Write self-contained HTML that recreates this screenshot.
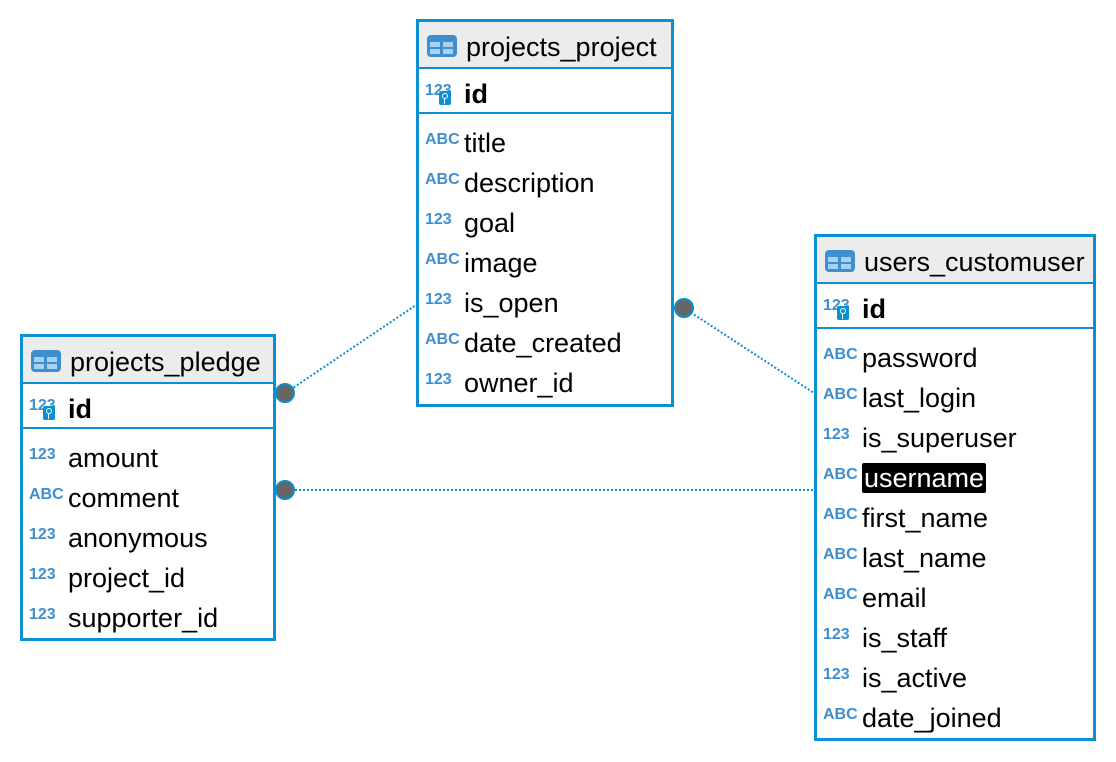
<!DOCTYPE html>
<html><head><meta charset="utf-8"><style>
*{margin:0;padding:0;box-sizing:border-box}
body{width:1116px;height:762px;background:#fff;position:relative;overflow:hidden;font-family:"Liberation Sans",sans-serif;color:#000}
.t{position:absolute;border:3px solid #0a8fd0;background:#fff}
.h{height:47px;background:#ececec;border-bottom:2px solid #0a8fd0;display:flex;align-items:center;font-size:27px;padding-left:8px;padding-top:6px}
.h .ic{width:30px;height:22px;background:#3d8fd0;border-radius:4px;margin-right:9px;position:relative;margin-top:-4px}
.h .ic:before{content:"";position:absolute;left:3px;top:7px;width:10px;height:5px;background:#a9d0ef;box-shadow:13px 0 0 #a9d0ef,0 7px 0 #a9d0ef,13px 7px 0 #a9d0ef}
.id{height:45px;border-bottom:2px solid #0a8fd0;display:flex;align-items:center;font-size:27px;font-weight:bold;padding-left:6px;padding-top:7px}
.rows{padding-top:5px}
.r{height:40px;display:flex;align-items:center;font-size:27px;padding-left:6px;padding-top:8px}
.k{width:39px;font-size:16px;font-weight:bold;color:#3d8fd0;position:relative;flex:none;margin-top:-7px}
.key{position:absolute;left:14px;top:9px;width:12px;height:14px;background:#0a8fd0;border-radius:2px}
.key:before{content:"";position:absolute;left:3px;top:2px;width:4px;height:4px;border:1px solid #fff;border-radius:50%}
.key:after{content:"";position:absolute;left:5px;top:8px;width:1px;height:5px;background:#fff}
.sel{background:#000;color:#fff;padding:0 2px;border-radius:2px;line-height:30px}
</style></head><body>
<svg width="1116" height="762" style="position:absolute;left:0;top:0">
<g stroke="#0a8fd0" stroke-width="2" stroke-dasharray="2,2" fill="none">
<line x1="287" y1="392" x2="416" y2="305"/>
<line x1="287" y1="490" x2="814" y2="490"/>
<line x1="684" y1="308" x2="814" y2="393"/>
</g>
</svg>
<div class="t" style="left:416px;top:19px;width:258px;height:388px">
<div class="h"><div class="ic"></div>projects_project</div>
<div class="id"><div class="k">123<div class="key"></div></div>id</div>
<div class="rows">
<div class="r"><div class="k">ABC</div>title</div>
<div class="r"><div class="k">ABC</div>description</div>
<div class="r"><div class="k">123</div>goal</div>
<div class="r"><div class="k">ABC</div>image</div>
<div class="r"><div class="k">123</div>is_open</div>
<div class="r"><div class="k">ABC</div>date_created</div>
<div class="r"><div class="k">123</div>owner_id</div>
</div></div>
<div class="t" style="left:20px;top:334px;width:256px;height:307px">
<div class="h"><div class="ic"></div>projects_pledge</div>
<div class="id"><div class="k">123<div class="key"></div></div>id</div>
<div class="rows">
<div class="r"><div class="k">123</div>amount</div>
<div class="r"><div class="k">ABC</div>comment</div>
<div class="r"><div class="k">123</div>anonymous</div>
<div class="r"><div class="k">123</div>project_id</div>
<div class="r"><div class="k">123</div>supporter_id</div>
</div></div>
<div class="t" style="left:814px;top:234px;width:282px;height:507px">
<div class="h"><div class="ic"></div>users_customuser</div>
<div class="id"><div class="k">123<div class="key"></div></div>id</div>
<div class="rows">
<div class="r"><div class="k">ABC</div>password</div>
<div class="r"><div class="k">ABC</div>last_login</div>
<div class="r"><div class="k">123</div>is_superuser</div>
<div class="r"><div class="k">ABC</div><span class="sel">username</span></div>
<div class="r"><div class="k">ABC</div>first_name</div>
<div class="r"><div class="k">ABC</div>last_name</div>
<div class="r"><div class="k">ABC</div>email</div>
<div class="r"><div class="k">123</div>is_staff</div>
<div class="r"><div class="k">123</div>is_active</div>
<div class="r"><div class="k">ABC</div>date_joined</div>
</div></div>
<svg width="1116" height="762" style="position:absolute;left:0;top:0">
<g fill="#666" stroke="#0a8fd0" stroke-width="2">
<circle cx="285" cy="393" r="9"/>
<circle cx="285" cy="490" r="9"/>
<circle cx="684" cy="308" r="9"/>
</g>
</svg>
</body></html>
